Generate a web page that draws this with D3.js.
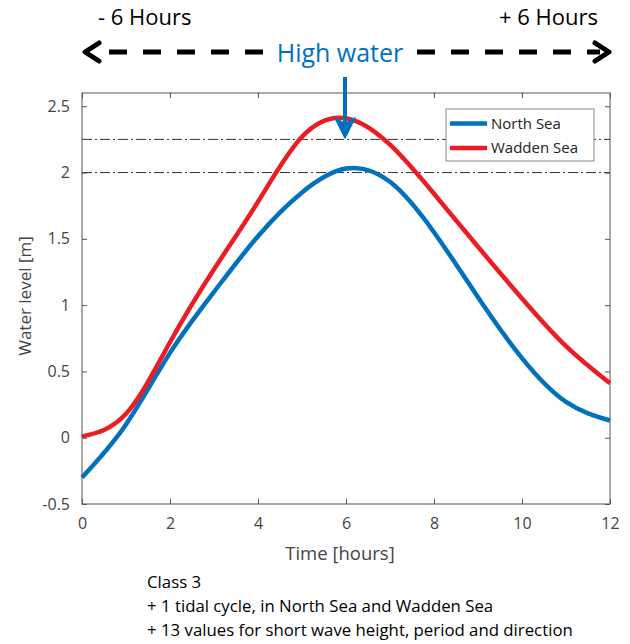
<!DOCTYPE html>
<html>
<head>
<meta charset="utf-8">
<script src="https://cdn.jsdelivr.net/npm/d3@7"></script>
<style>
  body { margin: 0; background: #fff; }
  text { font-family: "Open Sans", "Noto Sans", sans-serif; }
</style>
</head>
<body>
<div id="chart"></div>
<script>
// hourly values
var hours = [0, 1, 2, 3, 4, 5, 6, 7, 8, 9, 10, 11, 12];
var northSea = [-0.3, 0.1, 0.64, 1.1, 1.52, 1.85, 2.03, 1.93, 1.55, 1.06, 0.6, 0.27, 0.13];
var waddenSea = [0.01, 0.18, 0.72, 1.27, 1.78, 2.27, 2.41, 2.21, 1.84, 1.44, 1.05, 0.69, 0.41];
var xTicks = [0, 2, 4, 6, 8, 10, 12];
var yTicks = [-0.5, 0, 0.5, 1, 1.5, 2, 2.5];
var refLevels = [2, 2.25];
var seriesNames = ["North Sea", "Wadden Sea"];
var seriesColors = ["#0072BD", "#EC1C24"];
var noteLines = ["Class 3", "+ 1 tidal cycle, in North Sea and Wadden Sea", "+ 13 values for short wave height, period and direction"];

var svgWidth = 630, svgHeight = 644;
var margin = {top: 93, right: 20, bottom: 140, left: 82};
var width = 610 - margin.left;
var height = 504 - margin.top;

var svg = d3.select("#chart").append("svg")
  .attr("width", svgWidth)
  .attr("height", svgHeight);

var chartGroup = svg.append("g")
  .attr("transform", `translate(${margin.left}, ${margin.top})`);

var x = d3.scaleLinear().domain([0, 12]).range([0, width]);
var y = d3.scaleLinear().domain([-0.5, 2.6]).range([height, 0]);

var axisColor = "#555";

// box
chartGroup.append("rect")
  .attr("width", width).attr("height", height)
  .attr("fill", "none").attr("stroke", axisColor).attr("stroke-width", 1);

// reference dash-dot lines
chartGroup.selectAll(".ref")
  .data(refLevels)
  .enter().append("line")
  .attr("x1", 0).attr("x2", width)
  .attr("y1", d => y(d)).attr("y2", d => y(d))
  .attr("stroke", "#333").attr("stroke-width", 1)
  .attr("stroke-dasharray", "10,3,2,3");

// axes, MATLAB style ticks pointing inward
var fmt = d => String(d);
function styleAxis(g, showText) {
  g.select(".domain").remove();
  g.selectAll(".tick line").attr("stroke", axisColor);
  g.selectAll(".tick text")
    .attr("fill", "#444")
    .style("font-size", "16px")
    .style("display", showText ? null : "none");
}

chartGroup.append("g")
  .attr("transform", `translate(0, ${height})`)
  .call(d3.axisBottom(x).tickValues(xTicks).tickFormat(fmt).tickSizeInner(-5).tickPadding(14))
  .call(g => styleAxis(g, true));

chartGroup.append("g")
  .call(d3.axisTop(x).tickValues(xTicks).tickFormat(fmt).tickSizeInner(-5))
  .call(g => styleAxis(g, false));

chartGroup.append("g")
  .call(d3.axisLeft(y).tickValues(yTicks).tickFormat(fmt).tickSizeInner(-5).tickPadding(12))
  .call(g => styleAxis(g, true));

chartGroup.append("g")
  .attr("transform", `translate(${width}, 0)`)
  .call(d3.axisRight(y).tickValues(yTicks).tickFormat(fmt).tickSizeInner(-5))
  .call(g => styleAxis(g, false));

// curves
var line = d3.line()
  .x(d => x(d[0]))
  .y(d => y(d[1]))
  .curve(d3.curveNatural);

[northSea, waddenSea].forEach(function(vals, i) {
  chartGroup.append("path")
    .datum(hours.map((h, j) => [h, vals[j]]))
    .attr("fill", "none")
    .attr("stroke", seriesColors[i])
    .attr("stroke-width", 4.5)
    .attr("d", line);
});

// legend
var legend = chartGroup.append("g")
  .attr("transform", `translate(${446 - margin.left}, ${109 - margin.top})`);
legend.append("rect")
  .attr("width", 148).attr("height", 52)
  .attr("fill", "#fff").attr("stroke", "#888").attr("stroke-width", 1);
seriesNames.forEach(function(name, i) {
  legend.append("line")
    .attr("x1", 4).attr("x2", 41)
    .attr("y1", 14.5 + i * 24.5).attr("y2", 14.5 + i * 24.5)
    .attr("stroke", seriesColors[i]).attr("stroke-width", 4.5);
  legend.append("text")
    .attr("x", 45).attr("y", 14.5 + i * 24.5)
    .attr("dy", "0.35em")
    .attr("fill", "#222")
    .style("font-size", "15px")
    .text(name);
});

// axis labels
chartGroup.append("text")
  .attr("transform", "rotate(-90)")
  .attr("x", -(296 - margin.top))
  .attr("y", 31 - margin.left)
  .attr("text-anchor", "middle")
  .attr("fill", "#444")
  .style("font-size", "17px")
  .text("Water level [m]");

chartGroup.append("text")
  .attr("x", 340 - margin.left)
  .attr("y", 560 - margin.top)
  .attr("text-anchor", "middle")
  .attr("fill", "#444")
  .style("font-size", "18.5px")
  .text("Time [hours]");

// high water annotation
var hwX = x(6) + margin.left - 1;
var blue = "#0072BD";
svg.append("text")
  .attr("x", 340).attr("y", 62)
  .attr("text-anchor", "middle")
  .attr("fill", blue)
  .style("font-size", "25px")
  .text("High water");

svg.append("line")
  .attr("x1", hwX).attr("x2", hwX)
  .attr("y1", 77).attr("y2", 132)
  .attr("stroke", blue).attr("stroke-width", 4);
svg.append("path")
  .attr("d", `M${hwX - 10},118 L${hwX},138 L${hwX + 10},118 L${hwX},124 Z`)
  .attr("fill", blue).attr("stroke", blue).attr("stroke-width", 1.5)
  .attr("stroke-linejoin", "round");

// dashed time arrow
var arrowY = 52;
[[109, 265], [417, 600]].forEach(function(seg) {
  svg.append("line")
    .attr("x1", seg[0]).attr("x2", seg[1])
    .attr("y1", arrowY).attr("y2", arrowY)
    .attr("stroke", "#000").attr("stroke-width", 5)
    .attr("stroke-dasharray", "18,16");
});
svg.append("path")
  .attr("d", `M99,${arrowY - 9} L85,${arrowY} L99,${arrowY + 9}`)
  .attr("fill", "none").attr("stroke", "#000").attr("stroke-width", 5)
  .attr("stroke-linecap", "round").attr("stroke-linejoin", "round");
svg.append("path")
  .attr("d", `M595,${arrowY - 9} L609,${arrowY} L595,${arrowY + 9}`)
  .attr("fill", "none").attr("stroke", "#000").attr("stroke-width", 5)
  .attr("stroke-linecap", "round").attr("stroke-linejoin", "round");

svg.append("text")
  .attr("x", 98).attr("y", 25)
  .attr("fill", "#000")
  .style("font-size", "22px")
  .text("- 6 Hours");
svg.append("text")
  .attr("x", 598).attr("y", 25)
  .attr("text-anchor", "end")
  .attr("fill", "#000")
  .style("font-size", "22px")
  .text("+ 6 Hours");

// note below the chart
svg.selectAll(".note")
  .data(noteLines)
  .enter().append("text")
  .attr("x", 147)
  .attr("y", (d, i) => 588 + i * 24)
  .attr("fill", "#000")
  .style("font-size", "16.8px")
  .text(d => d);
</script>
</body>
</html>
